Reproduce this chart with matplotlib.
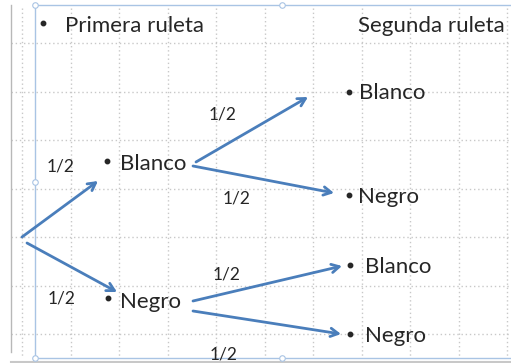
import matplotlib
matplotlib.use("Agg")
import matplotlib.pyplot as plt

# ---- data ----
stage_titles = ["Primera ruleta", "Segunda ruleta"]
first_outcomes = ["Blanco", "Negro"]
second_outcomes = ["Blanco", "Negro", "Blanco", "Negro"]
first_probs = ["1/2", "1/2"]
second_probs = ["1/2", "1/2", "1/2", "1/2"]

W, H = 511, 363
fig = plt.figure(figsize=(W / 100, H / 100), dpi=100)
ax = fig.add_axes([0, 0, 1, 1])
ax.set_xlim(0, W)
ax.set_ylim(H, 0)
ax.axis("off")

FONT = "Lato"
TXT = "#262626"
BLUE = "#4a7ebb"
SEL = "#a9c4e4"
FS = 16

# dotted grid
gx = [22 + 48.5 * i for i in range(11)]
gy = [43 + 48.5 * i for i in range(7)]
for x in gx:
    ax.plot([x, x], [8, 356], color="#c8c8c8", lw=1.0, ls=(0, (1, 2.0)), zorder=1)
for y in gy:
    ax.plot([11, W], [y, y], color="#c8c8c8", lw=1.0, ls=(0, (1, 2.0)), zorder=1)

# frame / selection decorations
ax.plot([11, 11], [5, 352], color="#b8b8b8", lw=1.0, zorder=2)
ax.plot([11, W], [361.5, 361.5], color="#c8c8c8", lw=1.5, zorder=2)
ax.plot([35, 35], [5, 358], color=SEL, lw=1.0, zorder=2)
ax.plot([35, W], [5, 5], color=SEL, lw=1.0, zorder=2)
ax.plot([35, W], [358, 358], color=SEL, lw=1.0, zorder=2)
for (cx, cy) in [(35, 5), (35, 182), (35, 358), (282, 358), (282, 5)]:
    ax.plot(cx, cy, "o", ms=4, mfc="white", mec=SEL, mew=0.8, zorder=3)

# titles
ax.plot(43, 23, "o", ms=3.2, color=TXT, zorder=4)
ax.text(65, 32, stage_titles[0], fontsize=FS, family=FONT, color=TXT, va="baseline", ha="left")
ax.text(358, 32, stage_titles[1], fontsize=FS, family=FONT, color=TXT, va="baseline", ha="left")

# first stage nodes
first_nodes = [(107, 161, 120, 170), (108, 298, 120, 308)]
for (bx, by, tx, ty), lab in zip(first_nodes, first_outcomes):
    ax.plot(bx, by, "o", ms=3.2, color=TXT, zorder=4)
    ax.text(tx, ty, lab, fontsize=FS, family=FONT, color=TXT, va="baseline", ha="left")

# second stage nodes
second_nodes = [(349, 92, 359, 99), (349, 195, 358, 203), (350, 265, 365, 273), (350, 334, 365, 342)]
for (bx, by, tx, ty), lab in zip(second_nodes, second_outcomes):
    ax.plot(bx, by, "o", ms=3.2, color=TXT, zorder=4)
    ax.text(tx, ty, lab, fontsize=FS, family=FONT, color=TXT, va="baseline", ha="left")

# arrows
first_arrows = [((22, 237), (98, 181)), ((27, 243), (117, 292))]
second_arrows = [((196, 162), (308, 97)), ((193, 166), (334, 193)),
                 ((193, 301), (342, 266)), ((193, 311), (341, 334))]
for (s, e) in first_arrows + second_arrows:
    ax.annotate("", xy=e, xytext=s,
                arrowprops=dict(arrowstyle="->,head_length=0.55,head_width=0.3",
                                color=BLUE, lw=2.0, shrinkA=0, shrinkB=0))

# probabilities
first_prob_pos = [(61, 172), (62, 303)]
for (px, py), p in zip(first_prob_pos, first_probs):
    ax.text(px, py, p, fontsize=12.5, family=FONT, color=TXT, va="baseline", ha="center")
second_prob_pos = [(223, 119), (237, 204), (227, 280), (224, 359)]
for (px, py), p in zip(second_prob_pos, second_probs):
    ax.text(px, py, p, fontsize=12.5, family=FONT, color=TXT, va="baseline", ha="center")

fig.savefig("out.png", dpi=100)
